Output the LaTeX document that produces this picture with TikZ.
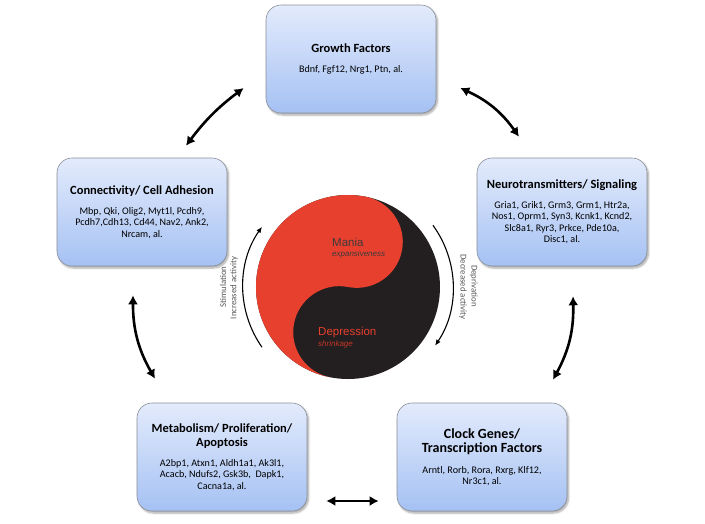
\documentclass[tikz,border=0pt]{standalone}
\usepackage{fontspec}
\setmainfont{Carlito}
\newfontfamily\yyfont{Liberation Sans}
\usetikzlibrary{arrows.meta,shadows.blur}
\definecolor{BoxTop}{HTML}{E3EBFC}
\definecolor{BoxBot}{HTML}{A5C1F3}
\definecolor{BoxLine}{HTML}{8A8F99}
\definecolor{YYRed}{HTML}{E8402E}
\definecolor{YYBlack}{HTML}{231F20}
\definecolor{YYText}{HTML}{3B3B3B}
\definecolor{SideText}{HTML}{555555}
\newcommand{\grptitle}{\bfseries\fontsize{12.5}{14}\selectfont}
\newcommand{\grpbig}{\bfseries\fontsize{14}{15}\selectfont}
\newcommand{\grpbody}{\mdseries\fontsize{10.1}{11.5}\selectfont}

\begin{document}
\begin{tikzpicture}[x=1pt,y=-1pt,>=Latex]
\tikzset{grp/.style={draw=BoxLine,line width=.6pt,rounded corners=15pt,top color=BoxTop,bottom color=BoxBot,minimum width=170pt,minimum height=108pt,align=center,inner sep=0pt,font=\grpbody,
           blur shadow={shadow xshift=1.5pt,shadow yshift=-2pt,shadow blur steps=6,shadow opacity=35}},
         link/.style={{Latex[length=9pt,width=10pt]}-{Latex[length=9pt,width=10pt]},line width=2.6pt},
         side/.style={-{Latex[length=6pt,width=5pt]},line width=1.1pt},
         sidelbl/.style={font=\fontsize{8.8}{10}\selectfont,text=SideText,inner sep=0pt},
         yylbl/.style={font=\yyfont\fontsize{11.5}{13}\selectfont,anchor=west,inner sep=0pt},
         yysub/.style={font=\yyfont\itshape\fontsize{8}{9}\selectfont,anchor=west,inner sep=0pt}}
\useasboundingbox (0,0) rectangle (705,523);
% gene groups
\node[grp] (gf) at (351,59) {\grptitle Growth Factors\\[8pt]Bdnf, Fgf12, Nrg1, Ptn, al.};
\node[grp] (ca) at (142,212) {\grptitle Connectivity/ Cell Adhesion\\[8pt]Mbp, Qki, Olig2, Myt1l, Pcdh9,\\Pcdh7,Cdh13, Cd44, Nav2, Ank2,\\Nrcam, al.};
\node[grp] (ns) at (562,212) {\grptitle Neurotransmitters/ Signaling\\[8pt]Gria1, Grik1, Grm3, Grm1, Htr2a,\\Nos1, Oprm1, Syn3, Kcnk1, Kcnd2,\\Slc8a1, Ryr3, Prkce, Pde10a,\\Disc1, al.};
\node[grp] (mp) at (222,457) {\grptitle Metabolism/ Proliferation/\\[3pt]\grptitle Apoptosis\\[8pt]A2bp1, Atxn1, Aldh1a1, Ak3l1,\\Acacb, Ndufs2, Gsk3b,~ Dapk1,\\Cacna1a, al.};
\node[grp] (cg) at (482,457) {\grpbig Clock Genes/\\[3pt]\grpbig Transcription Factors\\[9pt]Arntl, Rorb, Rora, Rxrg, Klf12,\\Nr3c1, al.};
% yin-yang
\node[circle,minimum size=184pt,inner sep=0pt] (yy) at (348,287) {};
\fill[YYBlack] (yy.center) circle[radius=92];
\begin{scope}[shift={(yy.center)},rotate=-11]
\fill[YYRed] (0,-92) arc[start angle=270,end angle=90,radius=92] arc[start angle=90,end angle=270,radius=46] arc[start angle=90,end angle=-90,radius=46] -- cycle;
\end{scope}
\node[yylbl,text=YYText] (mania) at (332,242) {Mania};
\node[yysub,text=YYText] (expand) at (332,254) {expansiveness};
\node[yylbl,text=YYRed] (depr) at (318,333) {Depression};
\node[yysub,text=YYRed!85!black] (shrink) at (318,344) {shrinkage};
% activity arcs
\draw[side] (yy.center) ++(145:105) arc[start angle=145,end angle=215,radius=105];
\draw[side] (yy.center) ++(-36:105) arc[start angle=-36,end angle=34,radius=105];
\node[sidelbl,rotate=90] (stim) at (223,287) {Stimulation};
\node[sidelbl,rotate=90] (incr) at (234,288) {Increased activity};
\node[sidelbl,rotate=-90] (depriv) at (474,286) {Deprivation};
\node[sidelbl,rotate=-90] (decr) at (463,287) {Decreased activity};
% links between groups
\draw[link] ([shift={(-22,29)}]gf.west) to[bend right=8] ([shift={(44,-12)}]ca.north);
\draw[link] ([shift={(24,29)}]gf.east) to[bend left=15] ([shift={(-43,-21)}]ns.north);
\draw[link] ([shift={(-9,29)}]ca.south) to[bend right=15] ([shift={(-67,-24)}]mp.north);
\draw[link] ([shift={(11,30)}]ns.south) to[bend left=15] ([shift={(71,-23)}]cg.north);
\draw[link] ([shift={(19,44)}]mp.east) -- ([shift={(-18,44)}]cg.west);
\end{tikzpicture}
\end{document}
